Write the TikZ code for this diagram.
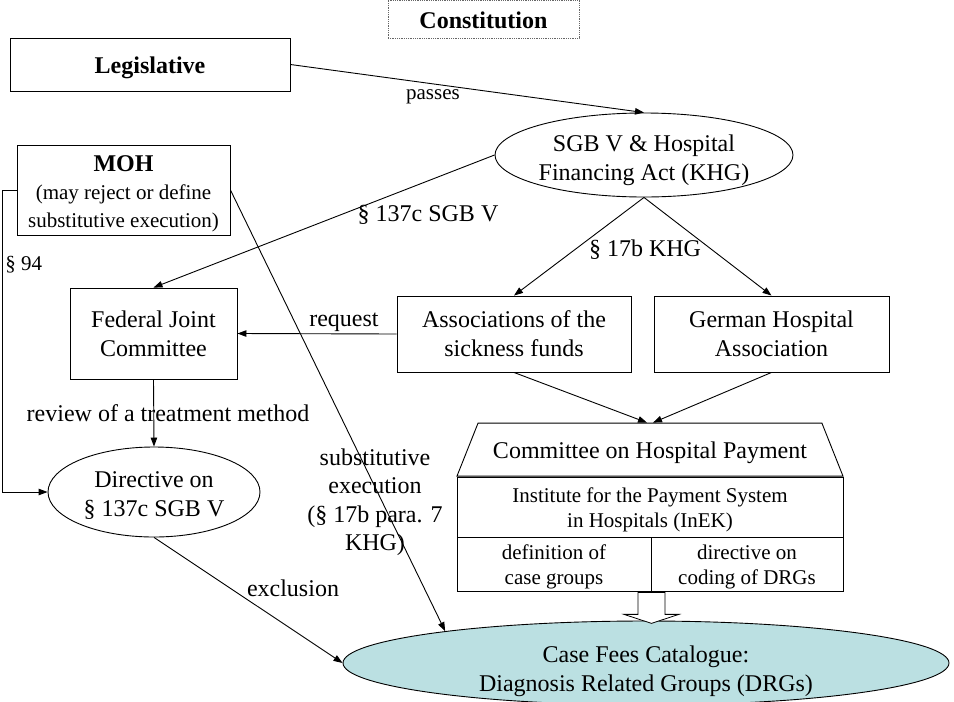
\documentclass[tikz,border=0pt]{standalone}
\usepackage{fontspec}
\setmainfont{Liberation Serif}
\usetikzlibrary{arrows.meta,positioning,calc,shapes.geometric}
\definecolor{catfill}{RGB}{187,224,226}
\newcommand{\bigsz}{\fontsize{24}{29}\selectfont}
\newcommand{\smallsz}{\fontsize{21}{25}\selectfont}
% lowered, centred stack of lines (keeps the box size of the text)
\newcommand{\low}[2][4pt]{\raisebox{-#1}[\height][\depth]{\begin{tabular}{@{}c@{}}#2\end{tabular}}}
\tikzset{
  >=Triangle,
  every picture/.append style={line width=0.9pt},
  every node/.append style={font=\bigsz},
}
\tikzset{
  box/.style={draw, align=center, inner sep=2pt},
  arrow/.style={-{Triangle[length=9pt,width=6.5pt]}},
  lbl/.style={align=center, inner sep=0pt}
}

\begin{document}
\begin{tikzpicture}[
  x=1pt, y=-1pt,
  oval/.style   ={draw, ellipse, inner sep=0pt},
  cell/.style   ={box, font=\smallsz},
  trap/.style   ={draw, trapezium, trapezium angle=54, trapezium stretches body=true,
                  inner sep=0pt, align=center},
  hollow/.style ={draw, fill=white, line width=0.8pt},
  frame/.style  ={draw=black!60, densely dotted, line width=0.8pt, font=\bfseries\bigsz},
  oneline/.style={text height=24pt, text depth=6pt}
]
\useasboundingbox (0,0) rectangle (954,702);

% Top of the chain
\node[frame, oneline, minimum width=191, minimum height=38] (const) at (483.5,19) {Constitution};
\node[box, oneline, minimum width=280, minimum height=53, font=\bfseries\bigsz] (legis) at (150,64.5) {Legislative};
\node[oval, inner xsep=-9pt, minimum width=298, minimum height=84] (sgb) at (644,155)
      {\low[5pt]{SGB V \& Hospital\\Financing Act (KHG)}};

% Left column
\node[box, minimum width=213, minimum height=90, font=\fontsize{21}{28}\selectfont] (moh) at (123.5,190)
      {\low[4pt]{{\bfseries\bigsz MOH}\\(may reject or define\\substitutive execution)}};
\node[box, minimum width=167, minimum height=91] (fjc) at (153.5,333.5) {Federal Joint\\Committee};
\node[oval, minimum width=212, minimum height=90] (dirc) at (154,492) {\low{Directive on\\\S\ 137c SGB V}};

% Self-governing bodies
\node[box, minimum width=234, minimum height=76] (assoc) at (514,334) {Associations of the\\sickness funds};
\node[box, minimum width=235, minimum height=76] (gha) at ([xshift=257.5]assoc.center) {German Hospital\\Association};

% Committee block with InEK and its two tasks
\node[cell, minimum width=386, minimum height=60] (inek) at (650,507)
      {\low[3pt]{Institute for the Payment System\\in Hospitals (InEK)}};
\node[trap, minimum width=386, minimum height=53, anchor=south] (chp) at (inek.north)
      {\low[3pt]{Committee on Hospital Payment}};
\node[cell, minimum width=194, minimum height=53, below right=0pt and 0pt of inek.south west] (defcg)
      {\low[2pt]{definition of\\case groups}};
\node[cell, minimum width=192, minimum height=53, below left=0pt and 0pt of inek.south east] (dirdrg)
      {\low[2pt]{directive on\\coding of DRGs}};

% Result
\node[oval, fill=catfill, minimum width=606, minimum height=84] (cfc) at (646,663)
      {\low[8pt]{Case Fees Catalogue:\\Diagnosis Related Groups (DRGs)}};

% Connectors
\draw[arrow] (legis.east) -- (sgb.north);
\draw[arrow] (sgb.west) -- (fjc.north);
\draw[arrow] (sgb.south) -- (assoc.north);
\draw[arrow] (sgb.south) -- (gha.north);
\draw[arrow] (assoc.west) -- (fjc.east);
\draw[arrow] (assoc.south) -- ([xshift=-3]chp.north);
\draw[arrow] (gha.south) -- ([xshift=3]chp.north);
\draw[arrow] (fjc.south) -- (dirc.north);
\draw[arrow] (moh.west) -- ++(-14,0) |- (dirc.west);
\draw[arrow] (moh.east) -- (cfc.171);
\draw[arrow] (dirc.south) -- (cfc.west);

% Hollow block arrow into the catalogue
\draw[hollow] ([xshift=-13.5]defcg.south east) -- ++(0,22) -- ++(-14,0) -- ++(27.5,9)
      -- ++(27.5,-9) -- ++(-14,0) -- ++(0,-22) -- cycle;

% Connector labels
\node[lbl, font=\smallsz] (lpass) at (433,97) {passes};
\node[lbl] (l137) at (428,215) {\S\ 137c SGB V};
\node[lbl] (l17b) at (645,250) {\S\ 17b KHG};
\node[lbl] (lreq) at (344,322) {request};
\node[lbl] (lrev) at (168,413) {review of a treatment method};
\node[lbl, font=\smallsz, anchor=west] (l94) at (5,265) {\S\ 94};
\node[lbl, font=\fontsize{24}{28.5}\selectfont] (lsub) at (375,502)
      {substitutive\\execution\\(\S\ 17b para. 7\\KHG)};
\node[lbl] (lexc) at (293,588) {exclusion};

\end{tikzpicture}
\end{document}
